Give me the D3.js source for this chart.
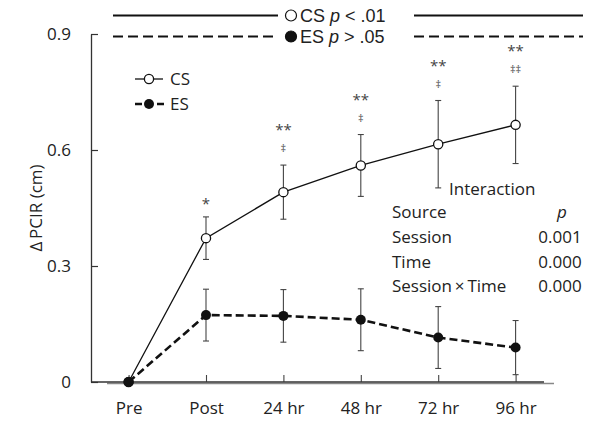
<!DOCTYPE html>
<html>
<head>
<meta charset="utf-8">
<script src="https://cdn.jsdelivr.net/npm/d3@7"></script>
<style>
  body { margin: 0; background: #fff; }
  svg text { font-family: "Open Sans", sans-serif; fill: #222; }
</style>
</head>
<body>
<div id="chart"></div>
<script>
// data
var categories = ["Pre", "Post", "24 hr", "48 hr", "72 hr", "96 hr"];
var csMean = [0, 0.372, 0.491, 0.560, 0.615, 0.665];
var csErr  = [0, 0.055, 0.070, 0.080, 0.113, 0.100];
var esMean = [0, 0.173, 0.171, 0.161, 0.115, 0.089];
var esErr  = [0, 0.067, 0.068, 0.080, 0.080, 0.070];
var sigStars = ["", "*", "**", "**", "**", "**"];
var sigDagger = ["", "", "\u2021", "\u2021", "\u2021", "\u2021\u2021"];
var yTicks = [0, 0.3, 0.6, 0.9];
var tableSource = ["Session", "Time", "Session\u2009\u00d7\u2009Time"];
var tableP = ["0.001", "0.000", "0.000"];

var w = 597, h = 422;

var svg = d3.select("#chart").append("svg")
    .attr("width", w)
    .attr("height", h);

var x = d3.scalePoint().domain(categories).range([128.6, 515.6]);
var y = d3.scaleLinear().domain([0, 0.9]).range([382, 34]);

var csData = categories.map(function (c, i) { return { cat: c, v: csMean[i], e: csErr[i] }; });
var esData = categories.map(function (c, i) { return { cat: c, v: esMean[i], e: esErr[i] }; });

// y axis, ticks pointing inward
var yAxis = svg.append("g")
    .attr("transform", "translate(91,0)")
    .call(d3.axisLeft(y).tickValues(yTicks)
        .tickSizeInner(-7).tickSizeOuter(0).tickPadding(20)
        .tickFormat(function (d) { return d === 0 ? "0" : d3.format(".1f")(d); }));
yAxis.select(".domain").attr("stroke", "#333").attr("stroke-width", 1.3);
yAxis.selectAll(".tick line").attr("stroke", "#333").attr("stroke-width", 1.2);
yAxis.selectAll(".tick text").style("font-size", "17px").attr("fill", "#222");

// x axis
var xAxis = svg.append("g")
    .attr("transform", "translate(0,382)")
    .call(d3.axisBottom(x).tickSizeInner(-7).tickSizeOuter(0).tickPadding(20));
xAxis.select(".domain").remove();
xAxis.selectAll(".tick line").attr("stroke", "#444").attr("stroke-width", 1.1);
xAxis.selectAll(".tick text").style("font-size", "17px").attr("fill", "#222");

svg.append("line")
    .attr("x1", 107).attr("x2", 554).attr("y1", 383.5).attr("y2", 383.5)
    .attr("stroke", "#888").attr("stroke-width", 1.5);
svg.append("line")
    .attr("x1", 91).attr("x2", 544).attr("y1", 382).attr("y2", 382)
    .attr("stroke", "#333").attr("stroke-width", 1.3);

// y label
svg.append("text")
    .attr("transform", "translate(42,208) rotate(-90)")
    .attr("text-anchor", "middle")
    .style("font-size", "17px")
    .text("\u0394\u2009PCIR (cm)");

// error bars
function errorBars(data) {
    var g = svg.append("g").attr("stroke", "#444").attr("stroke-width", 1.1);
    data.filter(function (d) { return d.e > 0; }).forEach(function (d) {
        var cx = x(d.cat);
        g.append("line").attr("x1", cx).attr("x2", cx)
            .attr("y1", y(d.v - d.e)).attr("y2", y(d.v + d.e));
        [d.v - d.e, d.v + d.e].forEach(function (v) {
            g.append("line").attr("x1", cx - 3).attr("x2", cx + 3)
                .attr("y1", y(v)).attr("y2", y(v));
        });
    });
}
errorBars(csData);
errorBars(esData);

var line = d3.line()
    .x(function (d) { return x(d.cat); })
    .y(function (d) { return y(d.v); });

// CS series
svg.append("path").datum(csData)
    .attr("d", line)
    .attr("fill", "none")
    .attr("stroke", "#111")
    .attr("stroke-width", 1.3);
svg.append("g").selectAll("circle").data(csData).enter().append("circle")
    .attr("cx", function (d) { return x(d.cat); })
    .attr("cy", function (d) { return y(d.v); })
    .attr("r", 4.6)
    .attr("fill", "#fff")
    .attr("stroke", "#111")
    .attr("stroke-width", 1.3);

// ES series
svg.append("path").datum(esData)
    .attr("d", line)
    .attr("fill", "none")
    .attr("stroke", "#111")
    .attr("stroke-width", 2.6)
    .attr("stroke-dasharray", "8,4");
svg.append("g").selectAll("circle").data(esData).enter().append("circle")
    .attr("cx", function (d) { return x(d.cat); })
    .attr("cy", function (d) { return y(d.v); })
    .attr("r", 5)
    .attr("fill", "#111");

// significance marks above CS error bars
csData.forEach(function (d, i) {
    var top = y(d.v + d.e);
    var off = 16;
    if (sigDagger[i]) {
        svg.append("text")
            .attr("x", x(d.cat)).attr("y", top - off + 3)
            .attr("text-anchor", "middle")
            .style("font-size", "11px")
            .style("fill", "#555")
            .text(sigDagger[i]);
        off = 38;
    }
    if (sigStars[i]) {
        svg.append("text")
            .attr("x", x(d.cat)).attr("y", top - off + 8)
            .attr("text-anchor", "middle")
            .style("font-size", "15px")
            .style("fill", "#444")
            .text(sigStars[i]);
    }
});

// inner legend
var leg = svg.append("g");
leg.append("line").attr("x1", 135).attr("x2", 163).attr("y1", 79).attr("y2", 79)
    .attr("stroke", "#111").attr("stroke-width", 1.3);
leg.append("circle").attr("cx", 149).attr("cy", 79).attr("r", 4.6)
    .attr("fill", "#fff").attr("stroke", "#111").attr("stroke-width", 1.3);
leg.append("text").attr("x", 170).attr("y", 85).style("font-size", "17px").text("CS");
leg.append("line").attr("x1", 135).attr("x2", 164).attr("y1", 104).attr("y2", 104)
    .attr("stroke", "#111").attr("stroke-width", 2.6).attr("stroke-dasharray", "7,4");
leg.append("circle").attr("cx", 149).attr("cy", 104).attr("r", 5).attr("fill", "#111");
leg.append("text").attr("x", 170).attr("y", 110).style("font-size", "17px").text("ES");

// top legend with p values
function topLegend(yy, filled, label, rel, pv, dash) {
    var g = svg.append("g");
    [[113, 278], [414, 583]].forEach(function (s) {
        g.append("line").attr("x1", s[0]).attr("x2", s[1]).attr("y1", yy).attr("y2", yy)
            .attr("stroke", "#111").attr("stroke-width", dash ? 2.2 : 2)
            .attr("stroke-dasharray", dash ? "10,5" : null);
    });
    g.append("circle").attr("cx", 291).attr("cy", yy).attr("r", 5.5)
        .attr("fill", filled ? "#111" : "#fff")
        .attr("stroke", "#111").attr("stroke-width", 1.2);
    var t = g.append("text").attr("x", 300).attr("y", yy + 6.5)
        .style("font-family", "'Liberation Sans', sans-serif")
        .style("font-size", "18px");
    t.append("tspan").text(label + " ");
    t.append("tspan").style("font-style", "italic").text("p");
    t.append("tspan").text(" " + rel + " " + pv);
}
topLegend(15.5, false, "CS", "<", ".01", false);
topLegend(36.5, true, "ES", ">", ".05", true);

// interaction table
var tab = svg.append("g").style("font-size", "17px");
tab.append("text").attr("x", 449).attr("y", 195).text("Interaction");
tab.append("text").attr("x", 392).attr("y", 218).text("Source");
tab.append("text").attr("x", 562).attr("y", 218).attr("text-anchor", "middle")
    .style("font-style", "italic").text("p");
tableSource.forEach(function (s, i) {
    tab.append("text").attr("x", 392).attr("y", 243 + i * 24.5).text(s);
    tab.append("text").attr("x", 560).attr("y", 243 + i * 24.5).attr("text-anchor", "middle").text(tableP[i]);
});
</script>
</body>
</html>
